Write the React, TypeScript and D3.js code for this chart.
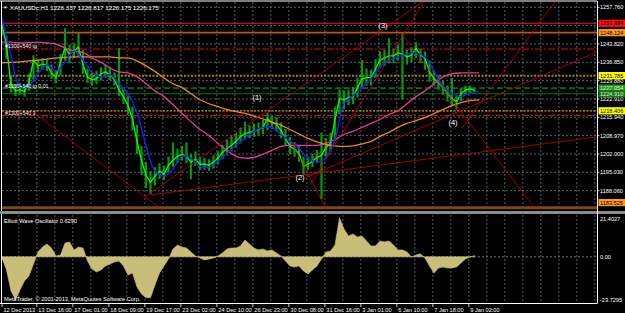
import * as d3 from 'd3'

// ── chart values ─────────────────────────────────────────────────────────────
// price samples, one every 4 H1 bars (bar 0 = 12 Dec 2013)
const closes = [
  1251.0, 1243.4, 1228.3, 1226.0, 1226.4, 1225.7, 1229.4, 1237.7, 1235.5, 1236.2,
  1235.9, 1232.8, 1231.0, 1237.0, 1242.3, 1240.0, 1241.1, 1242.7, 1235.9, 1231.3,
  1230.2, 1230.6, 1232.5, 1233.2, 1232.1, 1230.2, 1226.4, 1223.8, 1220.4, 1215.1,
  1206.8, 1199.6, 1193.9, 1191.3, 1193.6, 1195.5, 1194.3, 1197.7, 1199.6, 1201.1,
  1201.9, 1201.1, 1198.9, 1200.0, 1198.1, 1198.1, 1197.7, 1198.9, 1200.4, 1202.6,
  1204.1, 1205.3, 1206.8, 1208.7, 1209.8, 1210.2, 1210.6, 1211.3, 1212.1, 1215.5,
  1214.0, 1213.2, 1210.9, 1207.9, 1204.9, 1203.8, 1202.3, 1197.3, 1198.1, 1199.2,
  1200.7, 1201.5, 1204.5, 1206.0, 1215.1, 1223.0, 1222.6, 1223.4, 1223.8, 1227.2,
  1230.6, 1231.0, 1231.0, 1234.4, 1237.7, 1238.5, 1239.3, 1239.3, 1240.4, 1240.0,
  1238.9, 1239.6, 1242.3, 1239.6, 1238.5, 1233.2, 1230.6, 1229.1, 1227.2, 1224.9,
  1223.0, 1221.9, 1224.9, 1226.4, 1226.8, 1226.2,
]
const highs = [
  1252.8, 1247.0, 1232.0, 1228.5, 1229.0, 1228.0, 1232.5, 1239.5, 1238.0, 1238.5,
  1238.0, 1236.0, 1234.0, 1240.0, 1249.8, 1243.5, 1244.0, 1247.9, 1241.5, 1234.5,
  1233.0, 1233.5, 1235.0, 1236.0, 1235.0, 1233.0, 1242.3, 1227.0, 1224.0, 1220.0,
  1213.0, 1205.0, 1199.0, 1195.5, 1197.0, 1198.5, 1197.5, 1201.0, 1206.4, 1204.0,
  1205.0, 1206.4, 1202.0, 1203.0, 1201.0, 1200.5, 1200.0, 1201.5, 1203.0, 1205.5,
  1207.5, 1209.0, 1210.0, 1212.0, 1214.3, 1213.0, 1213.5, 1214.0, 1215.0, 1217.7,
  1216.5, 1216.0, 1214.0, 1211.5, 1208.5, 1206.5, 1205.0, 1201.0, 1201.0, 1202.0,
  1203.5, 1210.2, 1208.0, 1210.0, 1220.0, 1226.5, 1226.0, 1226.5, 1227.5, 1231.0,
  1237.7, 1234.5, 1234.0, 1238.0, 1241.0, 1241.5, 1246.0, 1242.0, 1243.5, 1247.9,
  1241.5, 1242.5, 1244.5, 1242.0, 1241.0, 1237.5, 1233.5, 1232.0, 1230.0, 1228.0,
  1230.9, 1224.5, 1227.0, 1228.0, 1228.0, 1227.2,
]
const lows = [
  1247.0, 1238.0, 1225.5, 1224.0, 1224.5, 1223.8, 1226.0, 1230.0, 1233.0, 1234.0,
  1233.5, 1230.5, 1229.0, 1232.0, 1237.5, 1236.5, 1238.5, 1239.0, 1232.5, 1229.0,
  1228.0, 1228.5, 1230.0, 1231.0, 1230.0, 1228.0, 1224.0, 1221.0, 1217.0, 1211.0,
  1202.0, 1194.0, 1189.0, 1186.8, 1190.0, 1192.5, 1192.0, 1195.0, 1197.0, 1198.5,
  1199.5, 1198.5, 1192.4, 1197.5, 1196.0, 1196.0, 1195.5, 1196.5, 1198.0, 1200.0,
  1201.5, 1203.0, 1204.5, 1206.0, 1207.5, 1208.0, 1208.5, 1209.0, 1209.5, 1211.0,
  1211.5, 1210.5, 1208.0, 1205.0, 1202.0, 1201.0, 1199.0, 1194.3, 1196.0, 1197.0,
  1198.5, 1184.9, 1201.0, 1203.0, 1207.0, 1217.0, 1219.0, 1220.5, 1221.0, 1223.5,
  1227.0, 1228.0, 1228.0, 1231.0, 1234.5, 1235.5, 1236.5, 1236.5, 1237.5, 1222.6,
  1236.0, 1237.0, 1238.5, 1236.5, 1234.0, 1229.5, 1228.0, 1226.5, 1224.5, 1222.0,
  1220.5, 1218.9, 1222.0, 1224.5, 1225.0, 1225.3,
]
// moving averages, one value every 8 bars
const maFast = [
  1253.6, 1239.6, 1227.5, 1227.9, 1232.5, 1235.9, 1233.6, 1237.0, 1241.1, 1237.7,
  1233.2, 1231.3, 1232.1, 1228.7, 1224.9, 1217.7, 1205.3, 1195.5, 1193.6, 1196.2,
  1201.1, 1200.4, 1197.3, 1197.0, 1199.2, 1202.2, 1205.3, 1207.9, 1210.6, 1212.1,
  1212.1, 1209.4, 1206.8, 1204.1, 1200.4, 1198.9, 1200.7, 1207.5, 1221.1, 1224.2,
  1227.2, 1230.6, 1235.1, 1237.7, 1238.9, 1240.0, 1240.4, 1238.9, 1233.6, 1227.9,
  1224.9, 1223.8, 1225.3, 1225.7,
]
const maMid = [
  1244.5, 1244.5, 1244.2, 1244.3, 1244.5, 1244.2, 1243.8, 1242.3, 1241.1, 1240.6,
  1238.5, 1236.8, 1234.7, 1233.2, 1232.8, 1231.3, 1228.7, 1226.0, 1223.8, 1220.8,
  1217.4, 1214.3, 1211.3, 1209.0, 1206.0, 1203.4, 1201.1, 1200.4, 1200.7, 1201.9,
  1203.4, 1204.9, 1205.3, 1205.3, 1205.3, 1205.3, 1206.0, 1207.5, 1209.4, 1210.6,
  1212.1, 1213.6, 1215.1, 1217.0, 1218.5, 1221.1, 1223.8, 1226.0, 1228.7, 1231.3,
  1232.5, 1232.8, 1232.8, 1232.8,
]
const maSlow = [
  1236.6, 1236.8, 1237.0, 1237.4, 1237.7, 1238.1, 1238.5, 1238.7, 1238.9, 1238.9,
  1238.9, 1238.9, 1238.9, 1238.5, 1238.5, 1237.4, 1235.5, 1233.4, 1230.9, 1228.7,
  1227.2, 1224.9, 1222.6, 1221.1, 1220.0, 1218.9, 1218.1, 1217.4, 1216.4, 1215.3,
  1214.1, 1213.0, 1211.3, 1209.6, 1207.9, 1206.6, 1205.6, 1205.1, 1204.9, 1205.1,
  1205.8, 1206.8, 1208.7, 1210.2, 1212.1, 1213.6, 1214.7, 1215.8, 1217.4, 1218.9,
  1220.4, 1221.5, 1222.3, 1222.6,
]
// Elliott Wave Oscillator, one value every 4 bars
const ewo = [
  -0.6, -6.9, -18.0, -22.5, -17.4, -12.7, -10.1, -3.8, 2.5, 5.1,
  6.7, 4.6, 0.4, 0.9, 7.2, 7.8, 3.6, 5.1, 4.6, -2.2,
  -6.4, -8.0, -6.9, -4.8, -3.8, -2.7, -2.2, -4.8, -9.6, -8.5,
  -15.9, -19.5, -21.5, -21.5, -14.8, -8.5, -4.8, -1.2, 4.1, 6.2,
  5.1, 4.6, 2.5, 0.4, -0.6, -1.7, -1.2, -0.6, 0.4, 2.0,
  4.1, 4.6, 4.6, 5.7, 8.8, 6.7, 4.6, 3.6, 4.1, 3.0,
  3.6, 2.0, 0.4, -2.2, -4.8, -5.4, -4.8, -7.5, -9.0, -6.9,
  -4.8, -1.2, 2.5, 3.0, 6.2, 20.5, 14.6, 10.9, 12.0, 10.4,
  10.9, 8.3, 5.7, 5.7, 8.3, 7.8, 8.3, 6.2, 3.6, 3.6,
  2.5, -0.1, 0.9, 1.5, -0.6, -4.8, -8.5, -5.9, -5.4, -5.9,
  -5.9, -5.4, -3.3, -1.2, -0.1, 0.6,
]

const dateLabels = [
  '12 Dec 2013', '13 Dec 16:00', '17 Dec 01:00', '18 Dec 09:00', '19 Dec 17:00',
  '23 Dec 02:00', '24 Dec 10:00', '26 Dec 23:00', '30 Dec 08:00', '31 Dec 16:00',
  '3 Jan 01:00', '6 Jan 10:00', '7 Jan 18:00', '9 Jan 02:00',
]
const priceTicks = [1257.76, 1250.79, 1243.82, 1236.85, 1229.88, 1222.91, 1215.94, 1208.97, 1202.0, 1195.03, 1188.06]
const tickShown  = [true, false, true, true, true, true, true, true, true, true, true]

// horizontal objects
const levelPrices = [1251.684, 1248.124, 1241.9, 1231.785, 1227.054, 1224.91, 1218.406, 1216.6, 1181.6]
const boxPrices   = [1251.684, 1248.124, 1231.785, 1227.054, 1224.91, 1218.406, 1183.525]
const boxTexts    = ['1251.684', '1248.124', '1231.785', '1227.054', '1224.910', '1218.406', '1183.525']

// trend lines: [bar0, price0, bar1, price1]
const trendLines: [number, number, number, number][] = [
  [27.6, 1217.97, 177.8, 1169.3],
  [127.1, 1185.67, 376, 1260.54],
  [131.6, 1186.43, 528.9, 1208.47],
  [273.8, 1190.23, 376, 1260.54],
  [354.7, 1248.0, 478.2, 1178.83],
  [408.9, 1211.89, 496, 1262.4],
  [256, 1207.33, 291.6, 1178.45],
  [269.3, 1192.89, 528.9, 1240.78],
]

const waveLabels = ['(1)', '(2)', '(3)', '(4)']
const waveBars   = [226.7, 264.9, 338.7, 400.9]
const wavePrices = [1223.3, 1192.9, 1250.66, 1213.8]

const objLabels      = ['#1300+540 tg', '#1300+540 tg 0.01', '#1300+540 3']
const objLabelPrices = [1243.06, 1227.86, 1217.6]

// ── styles ───────────────────────────────────────────────────────────────────
const FONT = '"Liberation Sans", Arial, sans-serif'
const FS   = 5.6
const CGRID = '#6e7480'
const LEVEL_STYLE = [
  { c: '#ff1010', w: 1.1, d: undefined },
  { c: '#b05a12', w: 1.6, d: undefined },
  { c: '#e01010', w: 1, d: '7,2,2,2' },
  { c: '#9c8400', w: 2, d: '2,1.5' },
  { c: '#10c010', w: 1, d: '6,3' },
  { c: '#007a00', w: 1, d: undefined },
  { c: '#d8a800', w: 1.3, d: '2,1.5' },
  { c: '#e01010', w: 1, d: '7,2,2,2' },
  { c: '#7a4a10', w: 3, d: undefined },
]
const BOX_FILL = ['#ff1010', '#ff9a10', '#ffff00', '#1a9a1a', '#107810', '#ffff00', '#ff9a10']
const BOX_TEXT = ['#000', '#000', '#000', '#e8e8e8', '#e8e8e8', '#000', '#000']

const M = { x0: 2, x1: 597, y0: 2, y1: 210 }
const SUB = { y0: 216, y1: 302 }

export default function App() {
  const x  = d3.scaleLinear().domain([0, 529]).range([M.x0, M.x1 + 0.1])
  const y  = d3.scaleLinear().domain([1180.7, 1259.78]).range([M.y1, M.y0])
  const yo = d3.scaleLinear().domain([-23.7295, 21.4027]).range([SUB.y1, SUB.y0])

  const closeLine = d3.line<number>().x((_, i) => x(i * 4)).y(d => y(d))
  const maLine = d3.line<number>().x((_, i) => x(i * 8)).y(d => y(d)).curve(d3.curveCatmullRom.alpha(0.5))
  const ewoArea = d3.area<number>().x((_, i) => x(i * 4)).y0(yo(0)).y1(d => yo(d))

  const gridBars = d3.range(1, 34).map(m => 16 * m - 1)
  const labelBars = dateLabels.map((_, k) => (k === 0 ? 0 : 32 * k - 1))

  return (
    <div style={{ position: 'fixed', left: 0, top: 0 }}>
      <svg width={625} height={313} style={{ display: 'block', background: '#000' }} fontFamily={FONT}>
        <defs>
          <clipPath id="main-clip"><rect x={M.x0} y={M.y0} width={M.x1 - M.x0} height={M.y1 - M.y0} /></clipPath>
          <clipPath id="sub-clip"><rect x={M.x0} y={SUB.y0 - 2} width={M.x1 - M.x0} height={SUB.y1 - SUB.y0 + 2} /></clipPath>
        </defs>

        {/* grid */}
        {gridBars.map(b => (
          <g key={b}>
            <line x1={x(b)} x2={x(b)} y1={M.y0} y2={M.y1} stroke={CGRID} strokeWidth={0.8} strokeDasharray="2,2" />
            <line x1={x(b)} x2={x(b)} y1={SUB.y0 - 1} y2={SUB.y1} stroke={CGRID} strokeWidth={0.8} strokeDasharray="2,2" />
          </g>
        ))}
        {priceTicks.map(p => (
          <line key={p} x1={M.x0} x2={M.x1} y1={y(p)} y2={y(p)} stroke={CGRID} strokeWidth={0.8} strokeDasharray="2,2" />
        ))}

        <g clipPath="url(#main-clip)">
          {/* levels */}
          {levelPrices.map((p, i) => (
            <line key={i} x1={M.x0} x2={M.x1} y1={y(p)} y2={y(p)}
              stroke={LEVEL_STYLE[i].c} strokeWidth={LEVEL_STYLE[i].w} strokeDasharray={LEVEL_STYLE[i].d} />
          ))}

          {/* high-low bars */}
          {closes.map((_, i) => (
            <rect key={i} x={x(i * 4) - 1.1} width={2.2} y={y(highs[i])} height={Math.max(1, y(lows[i]) - y(highs[i]))} fill="#0a960a" />
          ))}
          <path d={closeLine(closes) ?? ''} fill="none" stroke="#00ff00" strokeWidth={1.3} strokeLinejoin="round" />

          {/* moving averages */}
          <path d={maLine(maSlow) ?? ''} fill="none" stroke="#f2871e" strokeWidth={1.3} />
          <path d={maLine(maMid) ?? ''} fill="none" stroke="#e6379c" strokeWidth={1.3} />
          <path d={maLine(maFast) ?? ''} fill="none" stroke="#1c1cff" strokeWidth={1.4} />

          {/* trend lines */}
          {trendLines.map(([b0, p0, b1, p1], i) => (
            <line key={i} x1={x(b0)} y1={y(p0)} x2={x(b1)} y2={y(p1)} stroke="#c80000" strokeWidth={0.8} />
          ))}

          {waveLabels.map((t, i) => (
            <text key={t} x={x(waveBars[i])} y={y(wavePrices[i])} fill="#fff" fontSize={7.5}
              textAnchor="middle" dominantBaseline="central">{t}</text>
          ))}
          {objLabels.map((t, i) => (
            <text key={t} x={5} y={y(objLabelPrices[i])} fill="#fff" fontSize={5.2} dominantBaseline="central">{t}</text>
          ))}
        </g>

        {/* title */}
        <text x={3} y={7} fill="#fff" fontSize={4.5} dominantBaseline="central">▼</text>
        <text x={10} y={7} fill="#fff" fontSize={6.2} dominantBaseline="central">
          XAUUSDc,H1  1226.337 1226.817 1226.175 1226.175
        </text>

        {/* oscillator */}
        <line x1={M.x0} x2={M.x1} y1={yo(0)} y2={yo(0)} stroke="#8a8a8a" strokeWidth={0.8} strokeDasharray="2,2" />
        <g clipPath="url(#sub-clip)">
          <path d={ewoArea(ewo) ?? ''} fill="#c8be78" stroke="#c8be78" strokeWidth={0.6} />
        </g>
        <text x={4} y={220.5} fill="#fff" fontSize={FS} dominantBaseline="central">Elliott Wave Oscillator 0.6290</text>
        <text x={4} y={298.5} fill="#fff" fontSize={FS} dominantBaseline="central">MetaTrader, © 2001-2013, MetaQuotes Software Corp.</text>

        {/* frames */}
        <line x1={0} x2={M.x1} y1={1} y2={1} stroke="#fff" strokeWidth={1} />
        <line x1={1.5} x2={1.5} y1={1} y2={303.5} stroke="#fff" strokeWidth={1} />
        <rect x={0} y={211} width={625} height={3} fill="#8c8c8c" />
        <line x1={0} x2={M.x1} y1={303.5} y2={303.5} stroke="#fff" strokeWidth={1} />
        <line x1={M.x1 + 0.5} x2={M.x1 + 0.5} y1={1} y2={303.5} stroke="#fff" strokeWidth={1} />

        {/* right axis */}
        {priceTicks.map((p, i) => tickShown[i] && (
          <g key={p}>
            <line x1={M.x1} x2={M.x1 + 2.5} y1={y(p)} y2={y(p)} stroke="#fff" strokeWidth={0.8} />
            <text x={600} y={y(p)} fill="#fff" fontSize={FS} dominantBaseline="central">{p.toFixed(3)}</text>
          </g>
        ))}
        {boxPrices.map((p, i) => {
          const cy = Math.min(y(p), 205)
          return (
            <g key={p}>
              <rect x={598.5} y={cy - 3.6} width={26.5} height={7.2} fill={BOX_FILL[i]} />
              <text x={600} y={cy} fill={BOX_TEXT[i]} fontSize={FS} dominantBaseline="central">{boxTexts[i]}</text>
            </g>
          )
        })}
        <text x={600} y={219} fill="#fff" fontSize={FS} dominantBaseline="central">21.4027</text>
        <text x={600} y={yo(0)} fill="#fff" fontSize={FS} dominantBaseline="central">0.00</text>
        <text x={600} y={299.5} fill="#fff" fontSize={FS} dominantBaseline="central">-23.7295</text>

        {/* time axis */}
        {dateLabels.map((t, k) => (
          <g key={t}>
            <line x1={x(labelBars[k])} x2={x(labelBars[k])} y1={303.5} y2={307} stroke="#fff" strokeWidth={0.8} />
            <text x={x(labelBars[k]) + 1.5} y={309.5} fill="#fff" fontSize={FS} dominantBaseline="central">{t}</text>
          </g>
        ))}
      </svg>
    </div>
  )
}
